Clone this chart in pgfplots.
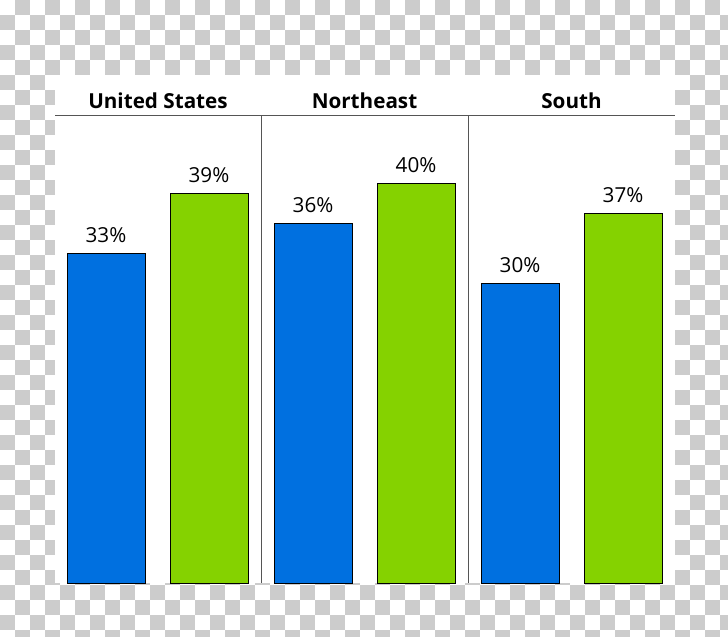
\documentclass[border=0pt]{standalone}
\usepackage{pgfplots}
\pgfplotsset{compat=1.18}
\usepackage{fontspec}
\setmainfont{Open Sans}
\definecolor{barblue}{HTML}{0070E0}
\definecolor{bargreen}{HTML}{85D200}
\definecolor{checkgray}{HTML}{CCCCCC}
\definecolor{rulegray}{HTML}{555555}
\begin{document}
\begin{tikzpicture}
% background: transparency checkerboard, 1px = 0.75pt
\useasboundingbox (0,0) rectangle (546pt,-477pt);
\begin{scope}[x=0.75pt,y=-0.75pt]
\clip (0,0) rectangle (728,636);
\fill[white] (0,0) rectangle (728,636);
\foreach \i in {0,...,48}{
  \foreach \j in {0,...,42}{
    \pgfmathtruncatemacro{\odd}{mod(\i+\j,2)}
    \ifnum\odd=1
      \fill[checkgray] (\i*15,\j*15) rectangle ++(15,15);
    \fi
  }
}
\fill[white] (55,75) rectangle (675,583);
\draw[rulegray, line width=0.75pt] (55,115) -- (675,115);
\draw[rulegray, line width=0.75pt] (261,115) -- (261,583);
\draw[rulegray, line width=0.75pt] (468,115) -- (468,583);
\node[font=\bfseries\fontsize{15.5}{18}\selectfont] at (158,101) {United States};
\node[font=\bfseries\fontsize{15.5}{18}\selectfont] at (364.5,101) {Northeast};
\node[font=\bfseries\fontsize{15.5}{18}\selectfont] at (571.5,101) {South};
\end{scope}
\begin{axis}[
    at={(41.25pt,-437.25pt)}, anchor=south west,
    width=465pt, height=351pt, scale only axis,
    xmin=55, xmax=675, ymin=0, ymax=46.8,
    axis lines=none,
    clip=false,
    ybar, bar width=78, bar shift=0pt,
    /pgf/number format/assume math mode=true,
    nodes near coords={\pgfmathprintnumber{\pgfplotspointmeta}\%},
    nodes near coords style={font=\fontsize{15.5}{18}\selectfont, anchor=south, inner sep=0pt, yshift=7.5pt},
]
\addplot[fill=barblue, draw=black, line width=0.7pt] coordinates {(106,33) (313,36) (520,30)};
\addplot[fill=bargreen, draw=black, line width=0.7pt] coordinates {(209,39) (416,40) (623,37)};
\end{axis}
\end{tikzpicture}
\end{document}
